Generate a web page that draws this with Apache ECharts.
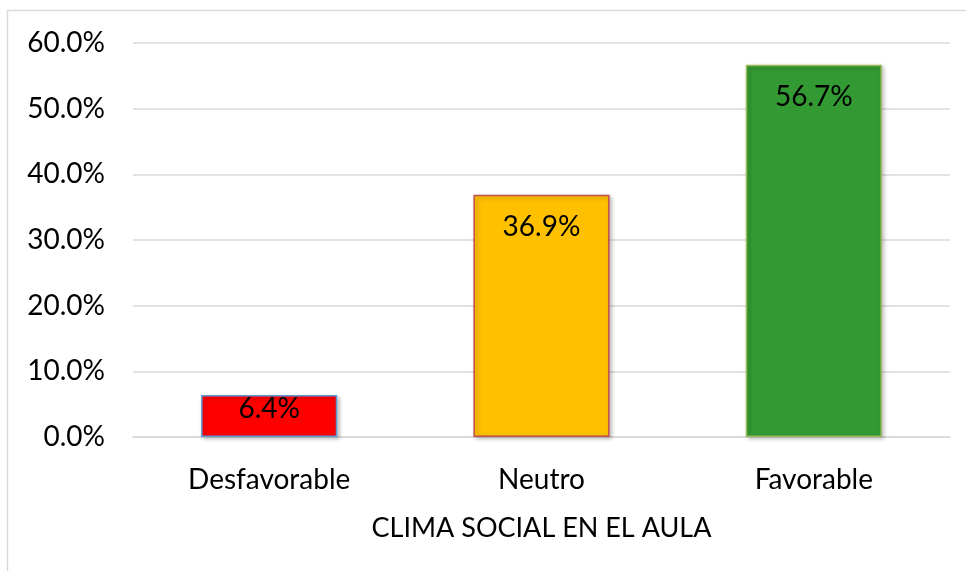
<!DOCTYPE html>
<html><head><meta charset="utf-8">
<script src="https://cdn.jsdelivr.net/npm/echarts@6/dist/echarts.min.js"></script>
<style>html,body{margin:0;padding:0;background:#fff}#c{width:966px;height:571px}</style>
</head><body><div id="c"></div>
<script>
const categories = ['Desfavorable', 'Neutro', 'Favorable'];
const values = [6.4, 36.9, 56.7];
const barColors = ['#FF0000', '#FFC000', '#339933'];
const barBorders = ['#5B9BD5', '#C0504D', '#9BBB59'];
const yTicks = [0, 10, 20, 30, 40, 50, 60];
const axisTitle = 'CLIMA SOCIAL EN EL AULA';

const font = 'Lato';
const fs = 28;
const chart = echarts.init(document.getElementById('c'));
chart.setOption({
  animation: false,
  textStyle: { fontFamily: font },
  graphic: [{ type: 'rect', shape: { x: 7.5, y: 10.5, width: 1000, height: 700 }, style: { fill: 'none', stroke: '#d9d9d9', lineWidth: 1.5 }, z: -1 }],
  grid: { left: 133, right: 16, top: 43, bottom: 134, containLabel: false },
  xAxis: {
    type: 'category', data: categories,
    name: axisTitle, nameLocation: 'middle', nameGap: 78,
    nameTextStyle: { fontSize: 27, color: '#000', fontFamily: font },
    axisLine: { lineStyle: { color: '#d9d9d9', width: 1.5 } },
    axisTick: { show: false },
    axisLabel: { fontSize: fs, color: '#000', margin: 29, fontFamily: font }
  },
  yAxis: {
    type: 'value', min: yTicks[0], max: yTicks[yTicks.length - 1], interval: 10,
    axisLine: { show: false }, axisTick: { show: false },
    splitLine: { lineStyle: { color: '#d9d9d9', width: 1.5 } },
    axisLabel: { fontSize: fs, color: '#000', margin: 28, fontFamily: font, formatter: v => v.toFixed(1) + '%' }
  },
  series: [{
    type: 'bar', barWidth: '50%',
    data: values.map((v, i) => ({
      value: v,
      itemStyle: { color: barColors[i], borderColor: barBorders[i], borderWidth: 1.5, shadowColor: 'rgba(0,0,0,0.25)', shadowBlur: 4, shadowOffsetX: 2, shadowOffsetY: 2 },
      label: { distance: v < 10 ? 0 : 18 }
    })),
    label: { show: true, position: 'insideTop', fontSize: fs, color: '#000', fontFamily: font, formatter: p => p.value.toFixed(1) + '%' }
  }]
});
</script></body></html>
